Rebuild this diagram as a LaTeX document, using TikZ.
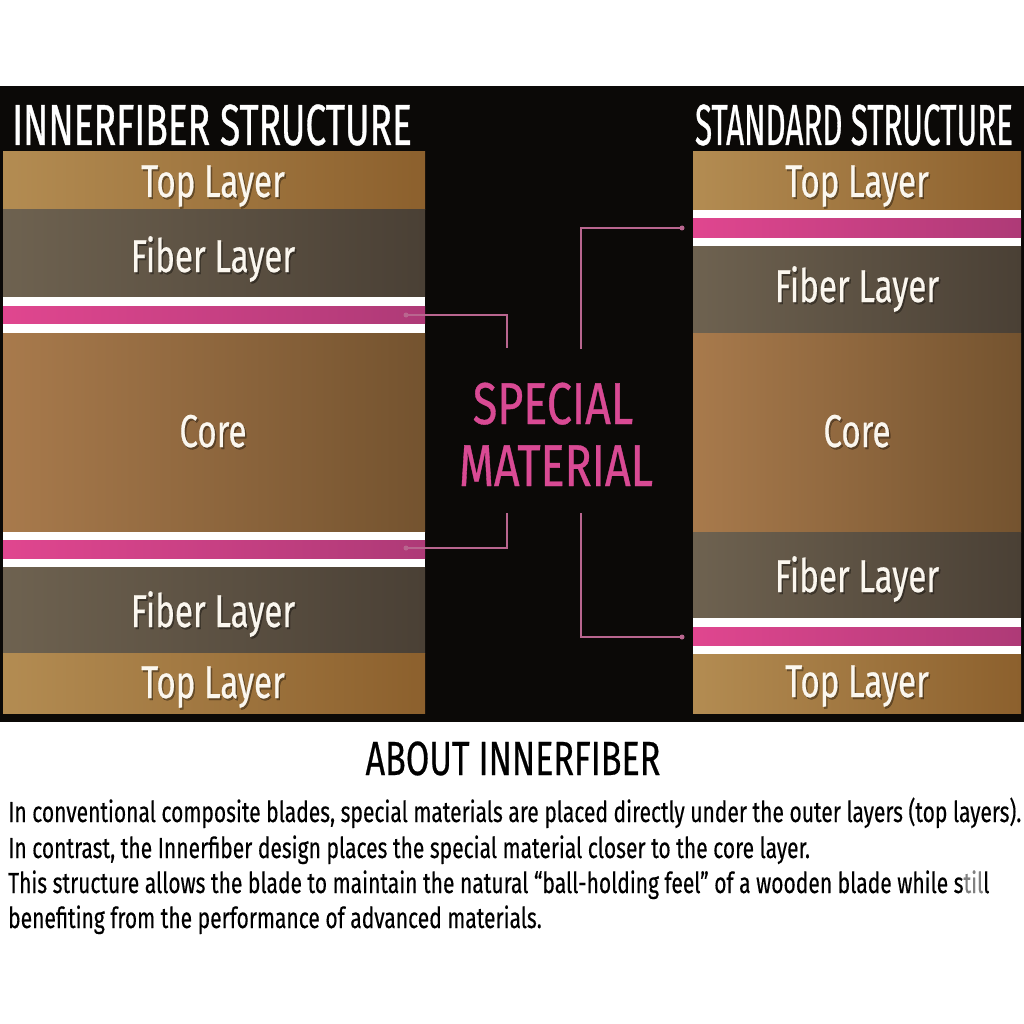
\documentclass[tikz,border=0pt]{standalone}
\usepackage{fontspec}
\setmainfont{Fira Sans}
\newfontfamily\headfont{Fira Sans}[FakeStretch=0.64,FakeBold=0.6]
\newfontfamily\specfont{Fira Sans}[FakeStretch=0.76,FakeBold=0.6]
\newfontfamily\lblfont{Fira Sans}[FakeStretch=0.72,FakeBold=0.4]
\newfontfamily\aboutfont{Fira Sans}[FakeStretch=0.71,FakeBold=0.4]
\newfontfamily\bodyfont{Fira Sans}[FakeStretch=0.725,FakeBold=0.3]
\definecolor{bgblack}{HTML}{0B0907}
\definecolor{topL}{HTML}{B38C52}
\definecolor{topR}{HTML}{8C602D}
\definecolor{fibL}{HTML}{6E6250}
\definecolor{fibR}{HTML}{4A4035}
\definecolor{coreL}{HTML}{A87A4C}
\definecolor{coreR}{HTML}{74532F}
\definecolor{pinkL}{HTML}{E0468F}
\definecolor{pinkR}{HTML}{AE3A77}
\definecolor{connpink}{HTML}{B9668F}
\definecolor{specpink}{HTML}{D94A94}
\definecolor{lblwhite}{HTML}{FBF7EF}
\begin{document}
\begin{tikzpicture}[x=1pt,y=-1pt,
  toplayer/.style={left color=topL,right color=topR},
  fiblayer/.style={left color=fibL,right color=fibR},
  corelayer/.style={left color=coreL,right color=coreR},
  pinklayer/.style={left color=pinkL,right color=pinkR},
  lbl/.style={font=\lblfont\fontsize{46}{50}\selectfont,text=lblwhite,anchor=base,inner sep=0pt},
  lblshadow/.style={font=\lblfont\fontsize{46}{50}\selectfont,text=black,opacity=0.35,anchor=base,inner sep=0pt},
  title/.style={font=\headfont\fontsize{58}{60}\selectfont,text=white,anchor=base,inner sep=0pt},
  special/.style={font=\specfont\fontsize{59}{62}\selectfont,text=specpink,anchor=base,inner sep=0pt},
  about/.style={font=\aboutfont\fontsize{48}{50}\selectfont,text=black,anchor=base,inner sep=0pt},
  body/.style={font=\bodyfont\fontsize{29}{31}\selectfont,text=black,anchor=base west,inner sep=0pt},
  dot/.style={circle,fill=connpink,inner sep=0pt,minimum size=5pt},
  conn/.style={draw=connpink,line width=1.5pt}
]
\useasboundingbox (0,0) rectangle (1024,1024);
\fill[white] (0,0) rectangle (1024,1024);
\fill[bgblack] (0,86) rectangle (1024,722);

% ---------- left column ----------
\shade[toplayer] (3,152) rectangle (425,210);
\shade[fiblayer] (3,210) rectangle (425,297);
\fill[white] (3,297) rectangle (425,333);
\shade[pinklayer] (3,306) rectangle (425,323);
\shade[corelayer] (3,333) rectangle (425,532);
\fill[white] (3,532) rectangle (425,567);
\shade[pinklayer] (3,540) rectangle (425,558);
\shade[fiblayer] (3,567) rectangle (425,653);
\shade[toplayer] (3,653) rectangle (425,713);

% ---------- right column ----------
\shade[toplayer] (693,152) rectangle (1021,210);
\fill[white] (693,210) rectangle (1021,246);
\shade[pinklayer] (693,219) rectangle (1021,237);
\shade[fiblayer] (693,246) rectangle (1021,333);
\shade[corelayer] (693,333) rectangle (1021,532);
\shade[fiblayer] (693,532) rectangle (1021,618);
\fill[white] (693,618) rectangle (1021,654);
\shade[pinklayer] (693,627) rectangle (1021,645);
\shade[toplayer] (693,654) rectangle (1021,713);

% ---------- titles ----------
\node[title] (tL) at (212,145) {INNERFIBER STRUCTURE};
\node[title] (tR) at (854,145) {\scalebox{0.845}[1]{STANDARD STRUCTURE}};

% ---------- layer labels ----------
\foreach \nm/\x/\y/\t in {lA/213/197/Top Layer, lB/213/272/Fiber Layer, lC/213/447/Core, lD/213/627/Fiber Layer, lE/213/698/Top Layer,
                         rA/857/197/Top Layer, rB/857/302/Fiber Layer, rC/857/447/Core, rD/857/592/Fiber Layer, rE/857/697/Top Layer}{
  \node[lblshadow] (\nm s) at (\x+1.5,\y+2) {\t};
  \node[lbl] (\nm) at (\x,\y) {\t};
}

% ---------- special material ----------
\node[special] (sm1) at (553,424) {SPECIAL};
\node[special] (sm2) at (556,486) {MATERIAL};

% ---------- connectors ----------
\node[dot] (dL1) at (406,315) {};
\node[dot] (dL2) at (406,548) {};
\node[dot] (dR1) at (682,228) {};
\node[dot] (dR2) at (682,637) {};
\coordinate (cL1) at (507,348);
\coordinate (cL2) at (507,513);
\coordinate (cR1) at (581,349);
\coordinate (cR2) at (581,513);
\draw[conn] (dL1.center) -| (cL1);
\draw[conn] (dL2.center) -| (cL2);
\draw[conn] (dR1.center) -| (cR1);
\draw[conn] (dR2.center) -| (cR2);

% ---------- about ----------
\node[about] (ab) at (513,775) {ABOUT INNERFIBER};
\node[body] (b1) at (8,822) {In conventional composite blades, special materials are placed directly under the outer layers (top layers).};
\node[body] (b2) at (8,858) {In contrast, the Innerfiber design places the special material closer to the core layer.};
\node[body] (b3) at (8,893) {This structure allows the blade to maintain the natural “ball-holding feel” of a wooden blade while s\textcolor{gray}{til}l};
\node[body] (b4) at (8,928) {benefiting from the performance of advanced materials.};
\end{tikzpicture}
\end{document}
